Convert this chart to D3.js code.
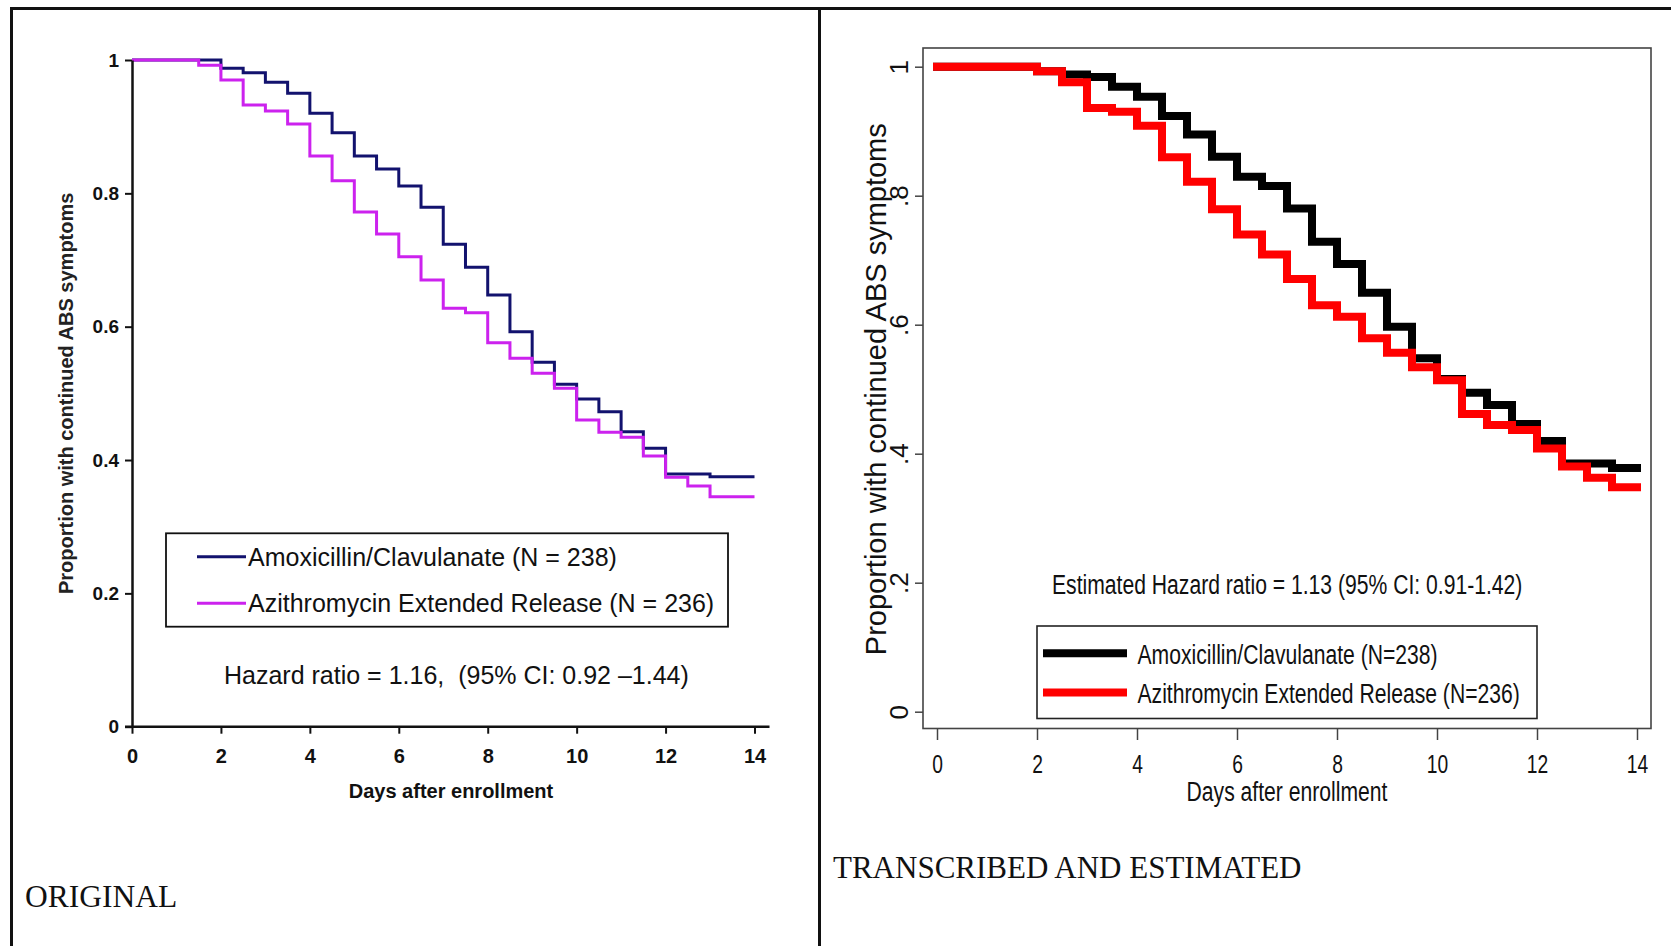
<!DOCTYPE html>
<html>
<head>
<meta charset="utf-8">
<script src="https://cdn.jsdelivr.net/npm/d3@7"></script>
<style>
  body { margin: 0; background: #fff; }
  svg { display: block; }
  text { white-space: pre; }
</style>
</head>
<body>
<div id="vis"></div>
<script>
// Kaplan-Meier Werte (Wert gilt ab dem jeweiligen Tag)
var daysOrig = [0, 1.5, 2, 2.5, 3, 3.5, 4, 4.5, 5, 5.5, 6, 6.5, 7, 7.5, 8, 8.5, 9, 9.5, 10, 10.5, 11, 11.5, 12, 12.5, 13, 14];
var amoxOrig = [1, 1, 0.9875, 0.981, 0.9665, 0.950, 0.920, 0.891, 0.856, 0.8365, 0.811, 0.779, 0.7235, 0.689, 0.6475, 0.5925, 0.5465, 0.5135, 0.4915, 0.4725, 0.4425, 0.4175, 0.379, 0.379, 0.375, 0.375];
var azitOrig = [1, 0.992, 0.970, 0.9325, 0.9235, 0.904, 0.856, 0.819, 0.772, 0.739, 0.705, 0.670, 0.6275, 0.621, 0.576, 0.5525, 0.530, 0.5075, 0.460, 0.4415, 0.434, 0.406, 0.374, 0.361, 0.345, 0.345];

var daysEst = [0, 2, 2.5, 3, 3.5, 4, 4.5, 5, 5.5, 6, 6.5, 7, 7.5, 8, 8.5, 9, 9.5, 10, 10.5, 11, 11.5, 12, 12.5, 13, 13.5, 14];
var amoxEst = [1, 0.993, 0.988, 0.984, 0.969, 0.9535, 0.9235, 0.895, 0.8605, 0.8295, 0.815, 0.780, 0.7287, 0.694, 0.6496, 0.597, 0.548, 0.516, 0.4946, 0.4755, 0.446, 0.4197, 0.385, 0.385, 0.378, 0.378];
var azitEst = [1, 0.993, 0.976, 0.936, 0.930, 0.9085, 0.8595, 0.8217, 0.779, 0.740, 0.709, 0.671, 0.630, 0.6125, 0.579, 0.5566, 0.534, 0.514, 0.4615, 0.4445, 0.4367, 0.408, 0.380, 0.3628, 0.348, 0.348];

var xTicks = [0, 2, 4, 6, 8, 10, 12, 14];
var yTicks = [0, 0.2, 0.4, 0.6, 0.8, 1];
var yLabelsOrig = ["0", "0.2", "0.4", "0.6", "0.8", "1"];
var yLabelsEst = ["0", ".2", ".4", ".6", ".8", "1"];

var legendOrig = ["Amoxicillin/Clavulanate (N = 238)", "Azithromycin Extended Release (N = 236)"];
var legendEst = ["Amoxicillin/Clavulanate (N=238)", "Azithromycin Extended Release (N=236)"];
var hazardOrig = "Hazard ratio = 1.16,  (95% CI: 0.92 \u20131.44)";
var hazardEst = "Estimated Hazard ratio = 1.13 (95% CI: 0.91-1.42)";
var yTitle = "Proportion with continued ABS symptoms";
var xTitle = "Days after enrollment";

var width = 1671;
var height = 946;
var SANS = "'Liberation Sans', Arial, sans-serif";
var SERIF = "'Liberation Serif', 'Times New Roman', serif";
var NARROW_SCALE = 0.755; // keine Narrow-Schrift installiert -> stauchen

var svg = d3.select("#vis").append("svg")
    .attr("width", width)
    .attr("height", height);

// rahmen
var frame = svg.append("g")
    .style("stroke", "#111")
    .style("stroke-width", 3);
frame.append("line").attr("x1", 11).attr("y1", 8.5).attr("x2", width).attr("y2", 8.5);
frame.append("line").attr("x1", 11.5).attr("y1", 7).attr("x2", 11.5).attr("y2", height);
frame.append("line").attr("x1", 819.5).attr("y1", 7).attr("x2", 819.5).attr("y2", height);

function zip(days, vals) {
  return days.map(function(d, i) { return { t: d, v: vals[i] }; });
}

// schmaler text: an (x,y) verschieben und horizontal stauchen
function narrowText(parent, x, y, size, txt, anchor) {
  return parent.append("text")
      .attr("transform", "translate(" + x + "," + y + ") scale(" + NARROW_SCALE + ",1)")
      .attr("text-anchor", anchor || "start")
      .style("font-family", SANS).style("font-size", size + "px")
      .style("fill", "#111")
      .text(txt);
}


/* ---------- ORIGINAL ---------- */
var xL = d3.scaleLinear().domain([0, 14]).range([132, 754.5]);
var yL = d3.scaleLinear().domain([0, 1]).range([726.7, 60]);

var left = svg.append("g");

var lineL = d3.line()
    .x(function(d) { return xL(d.t); })
    .y(function(d) { return yL(d.v); })
    .curve(d3.curveStepAfter);

left.append("path")
    .datum(zip(daysOrig, amoxOrig))
    .attr("d", lineL)
    .style("fill", "none")
    .style("stroke", "#12126e")
    .style("stroke-width", 3);

left.append("path")
    .datum(zip(daysOrig, azitOrig))
    .attr("d", lineL)
    .style("fill", "none")
    .style("stroke", "#cc22ee")
    .style("stroke-width", 3);

var yAxisL = left.append("g")
    .attr("transform", "translate(" + xL(0) + ",0)")
    .call(d3.axisLeft(yL).tickValues(yTicks)
      .tickFormat(function(d, i) { return yLabelsOrig[i]; })
      .tickSize(7).tickSizeOuter(0).tickPadding(6));
yAxisL.select(".domain").style("stroke", "#111").style("stroke-width", 2.5);
yAxisL.selectAll(".tick line").style("stroke", "#111").style("stroke-width", 2);
yAxisL.selectAll("text")
    .style("font-family", SANS).style("font-size", "19px").style("font-weight", "bold")
    .style("fill", "#111");

var xAxisL = left.append("g")
    .attr("transform", "translate(0," + yL(0) + ")")
    .call(d3.axisBottom(xL).tickValues(xTicks).tickSize(7).tickSizeOuter(0));
xAxisL.select(".domain").remove();
xAxisL.selectAll(".tick line").style("stroke", "#111").style("stroke-width", 2);
xAxisL.selectAll("text")
    .attr("y", 36.5).attr("dy", 0)
    .style("font-family", SANS).style("font-size", "20px").style("font-weight", "bold")
    .style("fill", "#111");
left.append("line")
    .attr("x1", xL(0) - 7).attr("y1", yL(0))
    .attr("x2", xL(14) + 15).attr("y2", yL(0))
    .style("stroke", "#111").style("stroke-width", 2.5);

left.append("text")
    .attr("x", 451).attr("y", 798)
    .attr("text-anchor", "middle")
    .style("font-family", SANS).style("font-size", "20px").style("font-weight", "bold")
    .style("fill", "#111")
    .text(xTitle);

left.append("text")
    .attr("transform", "translate(72.5," + yL(0.5) + ") rotate(-90)")
    .attr("text-anchor", "middle")
    .style("font-family", SANS).style("font-size", "20px").style("font-weight", "bold")
    .style("fill", "#222")
    .text(yTitle);

// legende
var legL = left.append("g");
legL.append("rect")
    .attr("x", 166).attr("y", 533.3)
    .attr("width", 562).attr("height", 93.4)
    .style("fill", "white")
    .style("stroke", "#111").style("stroke-width", 1.8);
[["#12126e", legendOrig[0], 556.7], ["#cc22ee", legendOrig[1], 603.3]].forEach(function(item) {
  legL.append("line")
      .attr("x1", 197).attr("y1", item[2]).attr("x2", 246).attr("y2", item[2])
      .style("stroke", item[0]).style("stroke-width", 3);
  legL.append("text")
      .attr("x", 248).attr("y", item[2] + 8.8)
      .style("font-family", SANS).style("font-size", "25px")
      .style("fill", "#111")
      .text(item[1]);
});

left.append("text")
    .attr("x", 224).attr("y", 683.5)
    .style("font-family", SANS).style("font-size", "25px")
    .style("fill", "#111")
    .text(hazardOrig);

left.append("text")
    .attr("x", 25).attr("y", 906.5)
    .style("font-family", SERIF).style("font-size", "31.5px")
    .style("fill", "#111")
    .text("ORIGINAL");


/* ---------- TRANSCRIBED ---------- */
var xR = d3.scaleLinear().domain([0, 14]).range([937, 1637]);
var yR = d3.scaleLinear().domain([0, 1]).range([711.7, 66.7]);

var right = svg.append("g");

right.append("rect")
    .attr("x", 923).attr("y", 48)
    .attr("width", 728).attr("height", 680.5)
    .style("fill", "none")
    .style("stroke", "#444").style("stroke-width", 1.6);

var lineR = d3.line()
    .x(function(d) { return xR(d.t); })
    .y(function(d) { return yR(d.v); })
    .curve(d3.curveStepAfter);

right.append("path")
    .datum(zip(daysEst, amoxEst))
    .attr("d", lineR)
    .style("fill", "none")
    .style("stroke", "#000")
    .style("stroke-width", 8)
    .style("stroke-linecap", "square");

right.append("path")
    .datum(zip(daysEst, azitEst))
    .attr("d", lineR)
    .style("fill", "none")
    .style("stroke", "#ff0000")
    .style("stroke-width", 8)
    .style("stroke-linecap", "square");

var xAxisR = right.append("g")
    .attr("transform", "translate(0,729)")
    .call(d3.axisBottom(xR).tickValues(xTicks).tickSize(11).tickSizeOuter(0));
xAxisR.select(".domain").remove();
xAxisR.selectAll(".tick line").style("stroke", "#444").style("stroke-width", 1.5);
xAxisR.selectAll("text")
    .attr("y", 0).attr("dy", 0)
    .attr("transform", "translate(0,43.5) scale(0.74,1)")
    .style("font-family", SANS).style("font-size", "26px")
    .style("fill", "#111");

var yAxisR = right.append("g")
    .attr("transform", "translate(923,0)")
    .call(d3.axisLeft(yR).tickValues(yTicks)
      .tickFormat(function(d, i) { return yLabelsEst[i]; })
      .tickSize(8).tickSizeOuter(0));
yAxisR.select(".domain").remove();
yAxisR.selectAll(".tick line").style("stroke", "#444").style("stroke-width", 1.5);
yAxisR.selectAll("text")
    .attr("transform", "rotate(-90)")
    .attr("x", 0).attr("y", -15.3).attr("dy", 0)
    .attr("text-anchor", "middle")
    .style("font-family", SANS).style("font-size", "26px")
    .style("fill", "#111");

narrowText(right, 1287, 800.5, 28, xTitle, "middle");

right.append("text")
    .attr("transform", "translate(886," + yR(0.5) + ") rotate(-90)")
    .attr("text-anchor", "middle")
    .style("font-family", SANS).style("font-size", "29px")
    .style("fill", "#111")
    .text(yTitle);

narrowText(right, 1052, 593.5, 28, hazardEst);

var legR = right.append("g");
legR.append("rect")
    .attr("x", 1037).attr("y", 626)
    .attr("width", 500).attr("height", 92.5)
    .style("fill", "white")
    .style("stroke", "#222").style("stroke-width", 1.6);
[["#000", legendEst[0], 653.3], ["#ff0000", legendEst[1], 692.5]].forEach(function(item) {
  legR.append("line")
      .attr("x1", 1043).attr("y1", item[2]).attr("x2", 1127).attr("y2", item[2])
      .style("stroke", item[0]).style("stroke-width", 8);
  narrowText(legR, 1137.5, item[2] + 10.5, 28, item[1]);
});

right.append("text")
    .attr("x", 833).attr("y", 878)
    .style("font-family", SERIF).style("font-size", "31px")
    .style("fill", "#111")
    .text("TRANSCRIBED AND ESTIMATED");
</script>
</body>
</html>
